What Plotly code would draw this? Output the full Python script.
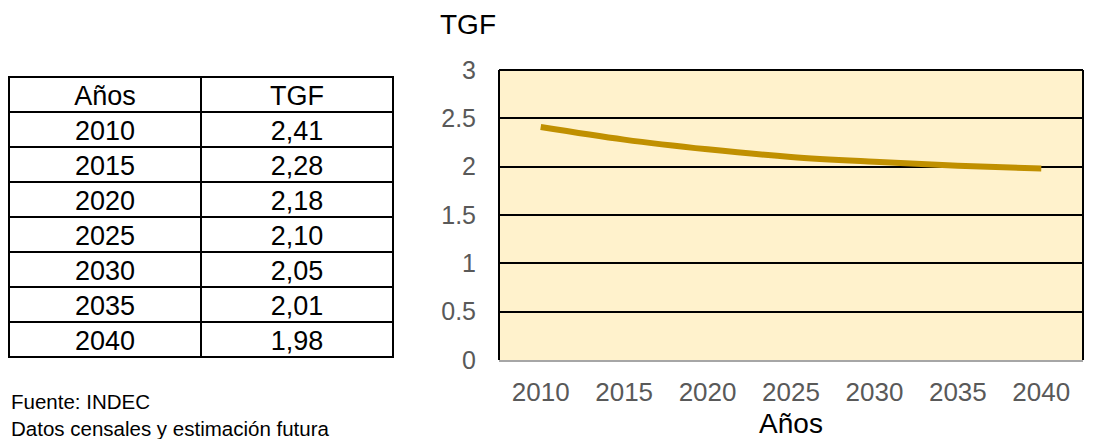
import plotly.graph_objects as go

years = ["2010", "2015", "2020", "2025", "2030", "2035", "2040"]
tgf = [2.41, 2.28, 2.18, 2.10, 2.05, 2.01, 1.98]
tgf_labels = ["2,41", "2,28", "2,18", "2,10", "2,05", "2,01", "1,98"]
y_ticks = [0, 0.5, 1, 1.5, 2, 2.5, 3]
y_tick_labels = ["0", "0.5", "1", "1.5", "2", "2.5", "3"]

# page has an 8px body margin; figure is placed at (8, 8)
OFF = 8
W, H = 1099 - OFF, 439 - OFF
L, R, T, B = 499, 1083, 70, 360
FONT = "Liberation Sans, Arial"

def px(x):
    return (x - OFF) / W

def py(y):
    return 1 - (y - OFF) / H

fig = go.Figure()

fig.add_trace(go.Table(
    domain=dict(x=[px(9), px(393)], y=[0.0, py(77)]),
    columnwidth=[1, 1],
    header=dict(values=["Años", "TGF"], height=35, align="center",
                line=dict(color="black", width=2), fill=dict(color="white"),
                font=dict(family=FONT, size=27, color="black")),
    cells=dict(values=[years, tgf_labels], height=35, align="center",
               line=dict(color="black", width=2), fill=dict(color="white"),
               font=dict(family=FONT, size=27, color="black")),
))

fig.add_trace(go.Scatter(
    x=years, y=tgf, mode="lines",
    line=dict(color="#C09000", width=6, shape="spline"),
    showlegend=False, hoverinfo="x+y",
))

fig.update_layout(
    width=W, height=H,
    margin=dict(l=0, r=0, t=0, b=0),
    paper_bgcolor="white",
    plot_bgcolor="#FFF2CC",
    font=dict(family=FONT, color="#595959"),
    showlegend=False,
    xaxis=dict(
        domain=[px(L), px(R)], automargin=False,
        type="category", range=[-0.5, 6.5], showgrid=False, zeroline=False,
        showline=True, linecolor="#A6A6A6", linewidth=2,
        ticks="", ticklabelstandoff=8, tickfont=dict(size=26, color="#595959"),
        title=dict(text="Años", font=dict(size=28, color="black"), standoff=14),
    ),
    yaxis=dict(
        domain=[py(B), py(T)], automargin=False,
        range=[0, 3], tickvals=y_ticks, ticktext=y_tick_labels,
        showgrid=True, gridcolor="black", gridwidth=1.5,
        zeroline=False, showline=False,
        ticks="", ticklabelstandoff=22,
        tickfont=dict(size=25, color="#595959"),
    ),
    shapes=[
        dict(type="line", xref="paper", yref="paper", x0=px(L), x1=px(L), y0=py(B), y1=py(T),
             line=dict(color="black", width=2)),
        dict(type="line", xref="paper", yref="paper", x0=px(R), x1=px(R), y0=py(B), y1=py(T),
             line=dict(color="black", width=2)),
        dict(type="line", xref="paper", yref="paper", x0=px(L), x1=px(R), y0=py(T), y1=py(T),
             line=dict(color="black", width=2)),
    ],
    annotations=[
        dict(text="TGF", xref="paper", yref="paper", x=px(468), y=py(25),
             xanchor="center", yanchor="middle", showarrow=False,
             font=dict(size=28, color="black")),
        dict(text="Fuente: INDEC<br>Datos censales y estimación futura",
             xref="paper", yref="paper", x=px(9), y=py(415),
             xanchor="left", yanchor="middle", align="left", showarrow=False,
             font=dict(size=20.5, color="black")),
    ],
)

fig.write_html("out.html")
